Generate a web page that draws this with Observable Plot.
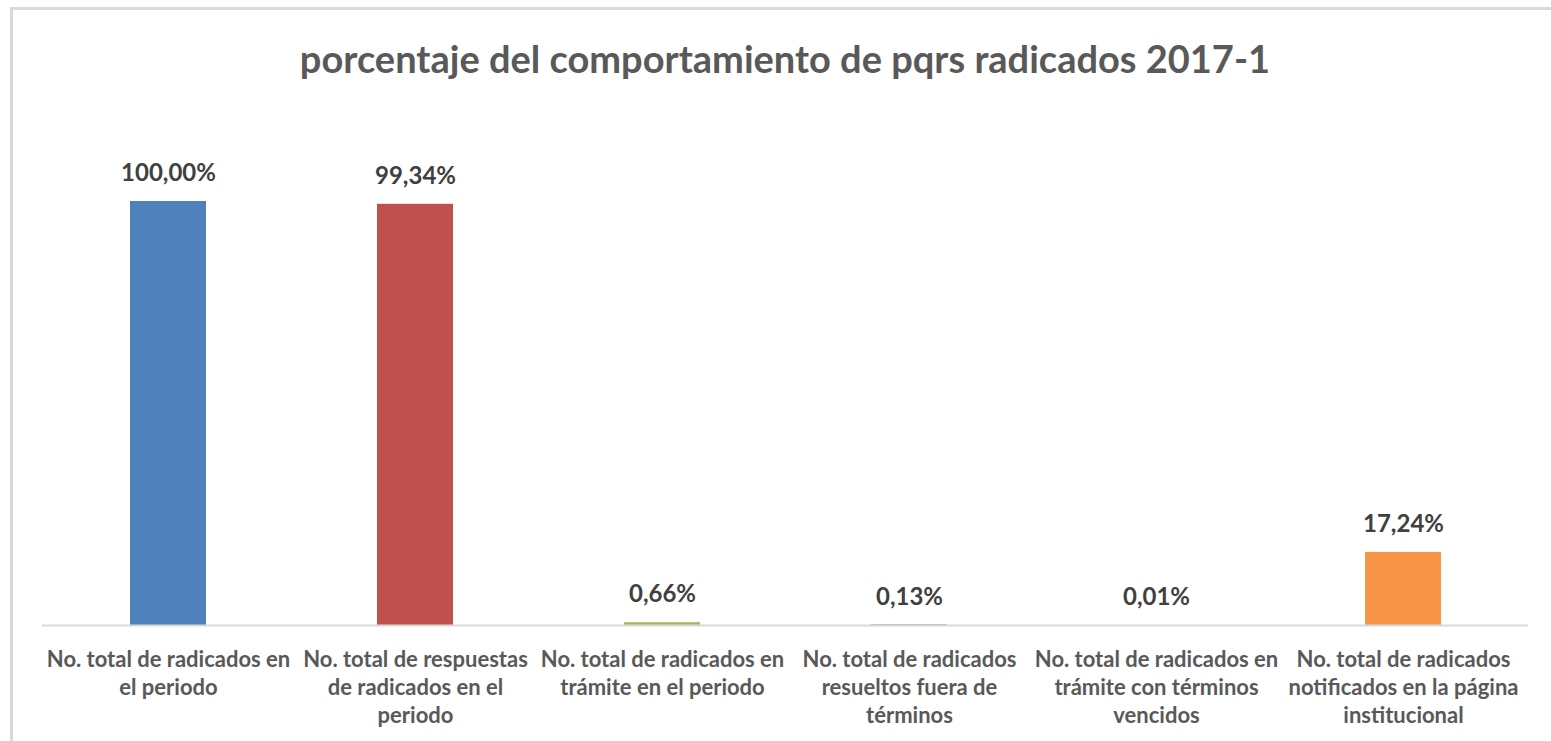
<!DOCTYPE html>
<html><head><meta charset="utf-8">
<script src="https://cdn.jsdelivr.net/npm/d3@7"></script>
<script src="https://cdn.jsdelivr.net/npm/@observablehq/plot@0.6"></script>
<style>
body{margin:0;background:#fff;width:1551px;height:741px;overflow:hidden;position:relative;font-family:Lato,sans-serif}
#frame{position:absolute;left:10px;top:7px;width:1600px;height:800px;border-left:3px solid #d9d9d9;border-top:3px solid #d9d9d9}
#title{position:absolute;left:0;top:34px;width:1570px;text-align:center;font-size:38px;font-weight:700;color:#595959;line-height:48px;white-space:nowrap}
#chart{position:absolute;left:0;top:110px}
</style></head>
<body>
<div id="frame"></div>
<div id="title">porcentaje del comportamiento de pqrs radicados 2017-1</div>
<div id="chart"></div>
<script>
const categories = [
  "No. total de radicados en\nel periodo",
  "No. total de respuestas\nde radicados en el\nperiodo",
  "No. total de radicados en\ntrámite en el periodo",
  "No. total de radicados\nresueltos fuera de\ntérminos",
  "No. total de radicados en\ntrámite con términos\nvencidos",
  "No. total de radicados\nnotificados en la página\ninstitucional"
];
const values = [100, 99.34, 0.66, 0.13, 0.01, 17.24];
const barColors = ["#4f81bd", "#c0504d", "#9bbb59", "#8064a2", "#4bacc6", "#f79646"];

const data = categories.map((c, i) => ({category: c, value: values[i]}));
const fmt = v => d3.format(".2f")(v).replace(".", ",") + "%";

const chart = Plot.plot({
  width: 1551,
  height: 631,
  marginLeft: 42,
  marginRight: 23,
  marginTop: 91,
  marginBottom: 116,
  x: {domain: categories, paddingInner: 0.693, paddingOuter: 0.3465, axis: null},
  y: {domain: [0, 100], axis: null},
  color: {domain: categories, range: barColors},
  style: {fontFamily: "Lato, sans-serif", background: "transparent", overflow: "visible"},
  marks: [
    Plot.barY(data, {x: "category", y: "value", fill: "category"}),
    Plot.ruleY([0], {stroke: "#d9d9d9", strokeWidth: 2}),
    Plot.text(data, {x: "category", y: "value", text: d => fmt(d.value), dy: -28, fontSize: 24,
      fontWeight: "bold", fill: "#404040"}),
    Plot.text(data, {x: "category", y: () => 0, text: "category", lineAnchor: "top", dy: 22,
      fontSize: 22, lineHeight: 1.27, fontWeight: "bold", fill: "#595959"})
  ]
});
document.getElementById("chart").appendChild(chart);
</script>
</body></html>
